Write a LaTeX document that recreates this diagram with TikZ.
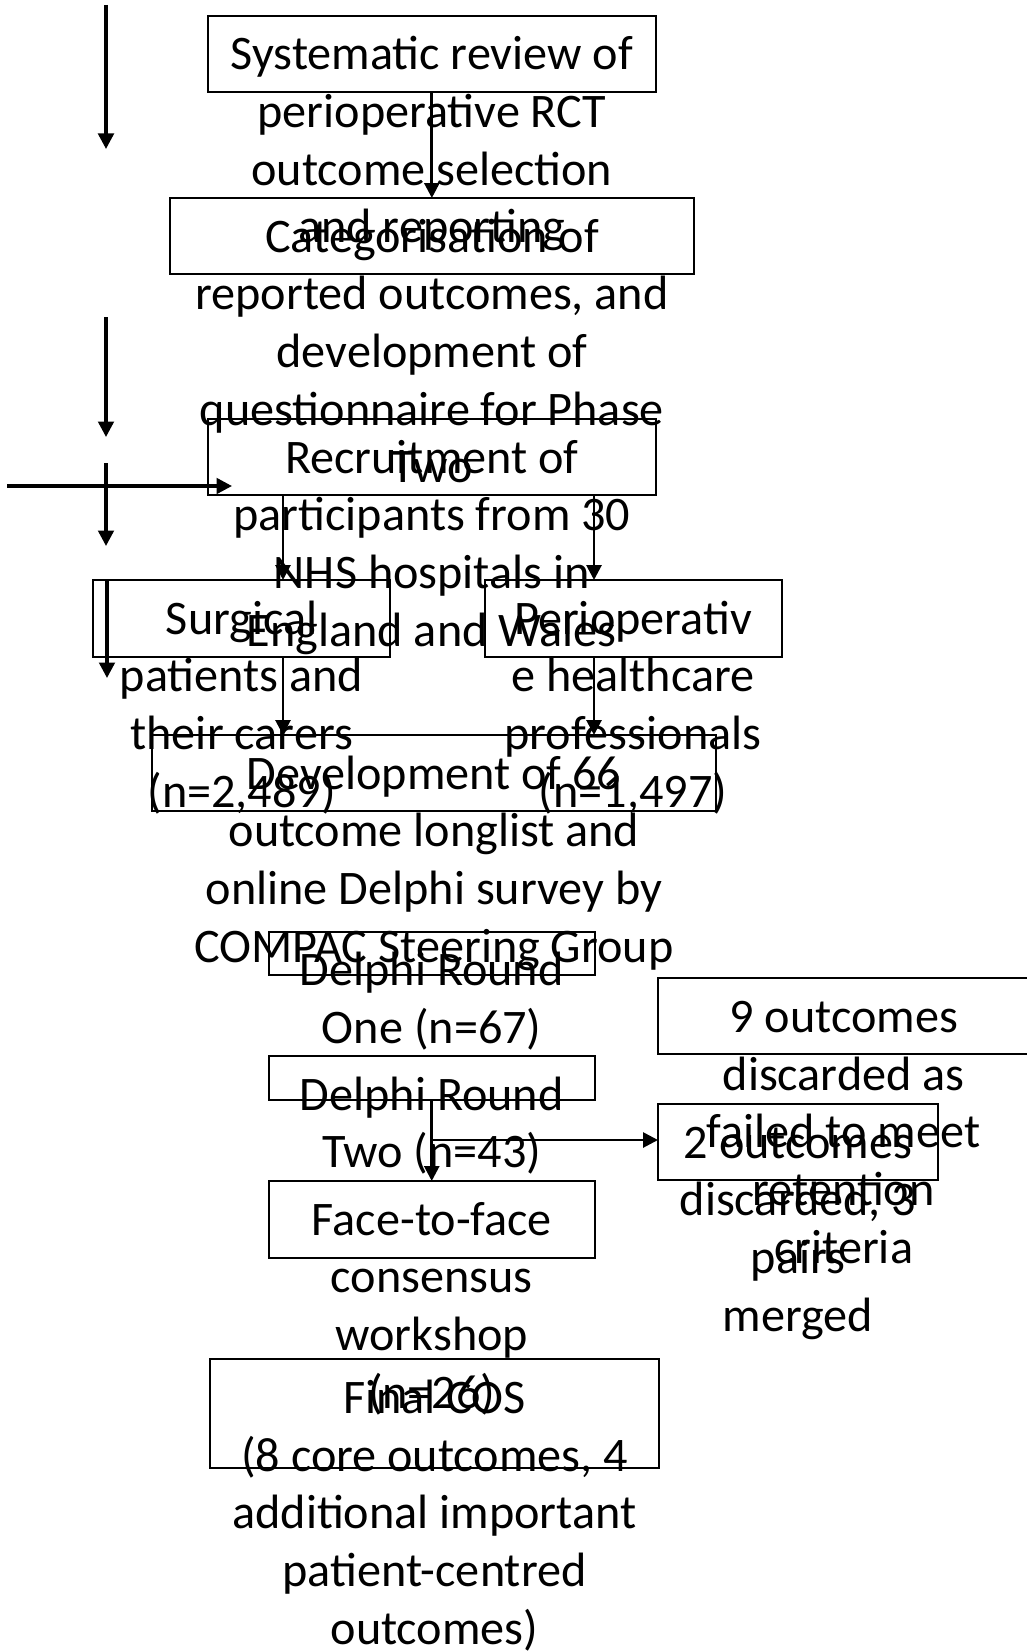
\documentclass[tikz,border=0pt]{standalone}
\usepackage{fontspec}
\setmainfont{Carlito}
\usetikzlibrary{arrows.meta}
\begin{document}
\begin{tikzpicture}[x=1pt,y=-1pt,
  box/.style={draw, line width=2pt, inner sep=0pt, outer sep=0pt},
  txt/.style={anchor=north, inner sep=0pt, outer sep=0pt, align=center, font=\fontsize{48.2}{57.7}\selectfont},
  conn/.style={line width=2.8pt, -{Triangle[width=15pt,length=15pt]}},
  stray/.style={line width=3.4pt, -{Triangle[width=15.5pt,length=15.5pt]}}]
\useasboundingbox (0,0) rectangle (1027,1651);
\newcommand{\fl}{\rule{0pt}{54pt}}
% boxes
\node[box, minimum width=448.3pt, minimum height=76.3pt] (b1) at (431.85,53.85) {};
\node[box, minimum width=524pt, minimum height=76.3pt] (b2) at (432,236.15) {};
\node[box, minimum width=448.3pt, minimum height=76pt] (b3) at (431.85,457) {};
\node[box, minimum width=296.7pt, minimum height=76.7pt] (b4) at (241.65,618.35) {};
\node[box, minimum width=297pt, minimum height=76.7pt] (b5) at (633,618.35) {};
\node[box, minimum width=564pt, minimum height=76pt] (b6) at (434,773) {};
\node[box, minimum width=326.5pt, minimum height=43pt] (b7) at (431.75,953) {};
\node[box, minimum width=326.5pt, minimum height=44pt] (b8) at (431.75,1078) {};
\node[box, minimum width=326.5pt, minimum height=76.7pt] (b9) at (431.75,1219.35) {};
\node[box, minimum width=449pt, minimum height=108.4pt] (b10) at (434.5,1413.5) {};
\node[box, minimum width=370.7pt, minimum height=76pt] (b11) at (843.65,1016.3) {};
\node[box, minimum width=280pt, minimum height=76pt] (b12) at (798,1142) {};
% texts
\node[txt] (t1) at (b1.north) {\fl Systematic review of\\perioperative RCT\\outcome selection\\and reporting};
\node[txt] (t2) at (b2.north) {\fl Categorisation of\\reported outcomes, and\\development of\\questionnaire for Phase\\Two};
\node[txt] (t3) at (b3.north) {\fl Recruitment of\\participants from 30\\NHS hospitals in\\England and Wales};
\node[txt] (t4) at (b4.north) {\fl Surgical\\patients and\\their carers\\(n=2,489)};
\node[txt] (t5) at (b5.north) {\fl Perioperativ\\e healthcare\\professionals\\(n=1,497)};
\node[txt] (t6) at (b6.north) {\fl Development of 66\\outcome longlist and\\online Delphi survey by\\COMPAC Steering Group};
\node[txt] (t7) at (b7.north) {\fl Delphi Round\\One (n=67)};
\node[txt] (t8) at (b8.north) {\fl Delphi Round\\Two (n=43)};
\node[txt] (t9) at (b9.north) {\fl Face-to-face\\consensus\\workshop\\(n=26)};
\node[txt] (t10) at (b10.north) {\fl Final COS\\(8 core outcomes, 4\\additional important\\patient-centred\\outcomes)};
\node[txt] (t11) at (b11.north) {\fl 9 outcomes\\discarded as\\failed to meet\\retention\\criteria};
\node[txt] (t12) at (b12.north) {\fl 2 outcomes\\discarded, 3\\pairs\\merged};
% connectors
\coordinate (cl) at (283,0);
\coordinate (cr) at (594,0);
\coordinate (br) at (431.75,1140);
\draw[conn] (b1.south) -- (b1.south |- b2.north);
\draw[conn] (cl |- b3.south) -- (cl |- b4.north);
\draw[conn] (cr |- b3.south) -- (cr |- b5.north);
\draw[conn] (cl |- b4.south) -- (cl |- b6.north);
\draw[conn] (cr |- b5.south) -- (cr |- b6.north);
\draw[conn] (b8.south) -- (b9.north);
\draw[conn] (br) -- (br -| b12.west);
% stray arrows
\coordinate (s1a) at (106,5);   \coordinate (s1b) at (106,149);
\coordinate (s2a) at (106,317); \coordinate (s2b) at (106,437);
\coordinate (s3a) at (106,463); \coordinate (s3b) at (106,546);
\coordinate (s4a) at (7,486);   \coordinate (s4b) at (232,486);
\coordinate (s5a) at (107,580); \coordinate (s5b) at (107,678);
\draw[stray] (s1a) -- (s1b);
\draw[stray] (s2a) -- (s2b);
\draw[stray] (s3a) -- (s3b);
\draw[stray] (s4a) -- (s4b);
\draw[stray] (s5a) -- (s5b);
\end{tikzpicture}
\end{document}
